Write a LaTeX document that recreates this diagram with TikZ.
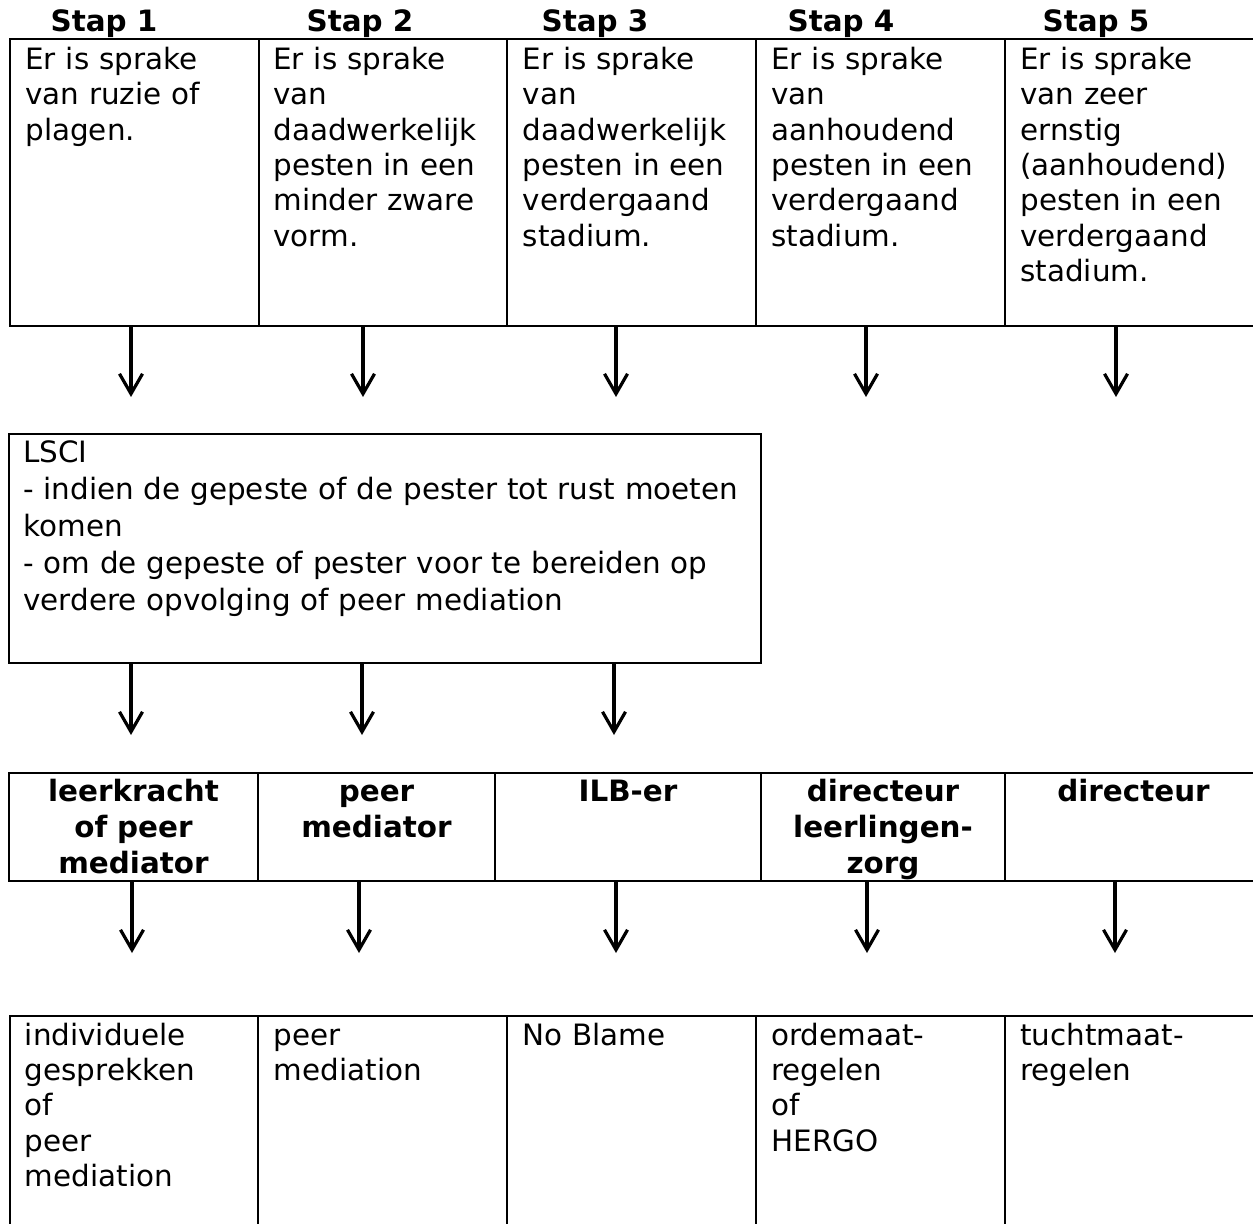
\documentclass[tikz,border=0pt]{standalone}
\usepackage{fontspec}
\setmainfont{DejaVu Sans}
\usetikzlibrary{arrows.meta,fit}
\begin{document}
\begin{tikzpicture}[x=0.5pt,y=-0.5pt,
  frame/.style={draw, line width=1pt, inner sep=0pt},
  txt/.style={inner sep=0pt, anchor=base west, align=left, text width=#1,
    font=\fontsize{14.7}{17.7}\selectfont},
  txt/.default=125pt,
  btxt/.style={inner sep=0pt, anchor=base, align=center, text width=120pt,
    font=\fontsize{14.7}{17.85}\selectfont\bfseries},
  hdr/.style={inner sep=0pt, anchor=base, font=\fontsize{14.7}{17.7}\selectfont\bfseries},
  arr/.style={line width=1.6pt, -{Straight Barb[length=10pt,width=11.5pt]}}
]
\useasboundingbox[fill=white] (0,0) rectangle (1253,1224);

% headers
\node[hdr] (h1) at (104,32) {Stap 1};
\node[hdr] (h2) at (360,32) {Stap 2};
\node[hdr] (h3) at (595,32) {Stap 3};
\node[hdr] (h4) at (841,32) {Stap 4};
\node[hdr] (h5) at (1096,32) {Stap 5};

% top row
\node[frame, fit={(10,39) (259,326)}] (s1) {};
\node[frame, fit={(259,39) (507,326)}] (s2) {};
\node[frame, fit={(507,39) (756,326)}] (s3) {};
\node[frame, fit={(756,39) (1005,326)}] (s4) {};
\node[frame, fit={(1005,39) (1262,326)}] (s5) {};
\node[txt] (s1t) at (25,69.3) {Er is sprake\\van ruzie of\\plagen.};
\node[txt] (s2t) at (273,69.3) {Er is sprake\\van\\daadwerkelijk\\pesten in een\\minder zware\\vorm.};
\node[txt] (s3t) at (522.5,69.3) {Er is sprake\\van\\daadwerkelijk\\pesten in een\\verdergaand\\stadium.};
\node[txt] (s4t) at (771,69.3) {Er is sprake\\van\\aanhoudend\\pesten in een\\verdergaand\\stadium.};
\node[txt] (s5t) at (1020,69.3) {Er is sprake\\van zeer\\ernstig\\(aanhoudend)\\pesten in een\\verdergaand\\stadium.};

% arrows row 1
\coordinate (a1) at (131,397);
\coordinate (a2) at (363,397);
\coordinate (a3) at (616,397);
\coordinate (a4) at (866,397);
\coordinate (a5) at (1116,397);
\draw[arr] (s1.south -| a1) -- (a1);
\draw[arr] (s2.south -| a2) -- (a2);
\draw[arr] (s3.south -| a3) -- (a3);
\draw[arr] (s4.south -| a4) -- (a4);
\draw[arr] (s5.south -| a5) -- (a5);

% LSCI box
\node[frame, fit={(9,434) (761,663)}] (lsci) {};
\node[inner sep=0pt, anchor=base west, align=left, text width=380pt,
  font=\fontsize{14.7}{18.5}\selectfont] (lscit) at (23,463)
  {LSCI\\- indien de gepeste of de pester tot rust moeten\\komen\\- om de gepeste of pester voor te bereiden op\\verdere opvolging of peer mediation};

\coordinate (b1) at (131,735);
\coordinate (b2) at (362,735);
\coordinate (b3) at (614,735);
\draw[arr] (lsci.south -| b1) -- (b1);
\draw[arr] (lsci.south -| b2) -- (b2);
\draw[arr] (lsci.south -| b3) -- (b3);

% middle row
\node[frame, fit={(9,773) (258,881)}] (m1) {};
\node[frame, fit={(258,773) (495,881)}] (m2) {};
\node[frame, fit={(495,773) (761,881)}] (m3) {};
\node[frame, fit={(761,773) (1005,881)}] (m4) {};
\node[frame, fit={(1005,773) (1262,881)}] (m5) {};
\node[btxt] (m1t) at (133.5,801.7) {leerkracht\\of peer\\mediator};
\node[btxt] (m2t) at (376.5,801.7) {peer\\mediator};
\node[btxt] (m3t) at (628,801.7) {ILB-er};
\node[btxt] (m4t) at (883,801.7) {directeur\\leerlingen-\\zorg};
\node[btxt] (m5t) at (1133.5,801.7) {directeur};

\coordinate (c1) at (132,953);
\coordinate (c2) at (359,953);
\coordinate (c3) at (616,953);
\coordinate (c4) at (867,953);
\coordinate (c5) at (1115,953);
\draw[arr] (m1.south -| c1) -- (c1);
\draw[arr] (m2.south -| c2) -- (c2);
\draw[arr] (m3.south -| c3) -- (c3);
\draw[arr] (m4.south -| c4) -- (c4);
\draw[arr] (m5.south -| c5) -- (c5);

% bottom row
\node[frame, fit={(10,1016) (258,1240)}] (r1) {};
\node[frame, fit={(258,1016) (507,1240)}] (r2) {};
\node[frame, fit={(507,1016) (756,1240)}] (r3) {};
\node[frame, fit={(756,1016) (1005,1240)}] (r4) {};
\node[frame, fit={(1005,1016) (1262,1240)}] (r5) {};
\node[txt] (r1t) at (24.5,1045) {individuele\\gesprekken\\of\\peer\\mediation};
\node[txt] (r2t) at (273.5,1045) {peer\\mediation};
\node[txt] (r3t) at (522,1045) {No Blame};
\node[txt] (r4t) at (771,1045) {ordemaat-\\regelen\\of\\HERGO};
\node[txt] (r5t) at (1020,1045) {tuchtmaat-\\regelen};
\end{tikzpicture}
\end{document}
